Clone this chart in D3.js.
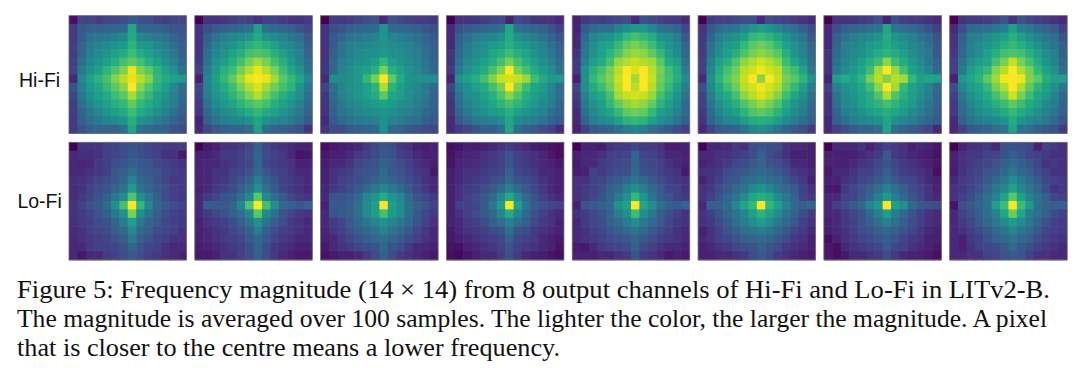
<!DOCTYPE html>
<html>
<head>
<meta charset="utf-8">
<script src="https://d3js.org/d3.v7.min.js"></script>
<style>
html, body { margin: 0; padding: 0; background: #fff; }
svg { display: block; }
.panel { filter: blur(0.45px); }
</style>
</head>
<body>
<div id="chart"></div>
<script>
//row labels and caption
var rowLabels = ["Hi-Fi", "Lo-Fi"];
var channels = [0, 1, 2, 3, 4, 5, 6, 7];
var captionLines = [
    "Figure 5: Frequency magnitude (14 \u00d7 14) from 8 output channels of Hi-Fi and Lo-Fi in LITv2-B.",
    "The magnitude is averaged over 100 samples. The lighter the color, the larger the magnitude. A pixel",
    "that is closer to the centre means a lower frequency."
];

//magnitude, 0 to 100, 14 rows of 14
var hiFi1 = [
[2,16,15,13,15,17,18,22,20,18,14,13,15,16],
[12,22,24,24,25,26,27,54,27,26,25,24,20,20],
[12,22,30,34,34,36,40,56,40,36,34,32,26,22],
[13,26,34,38,42,46,48,60,48,46,40,36,30,24],
[13,26,36,42,46,52,56,64,56,52,46,40,34,26],
[14,30,40,46,52,58,66,72,66,58,52,44,38,28],
[15,34,44,52,60,68,78,97,78,70,60,52,44,32],
[8,40,52,60,66,78,88,95,88,78,62,56,52,48],
[20,36,48,54,62,70,80,100,80,68,58,50,40,30],
[15,34,44,50,56,64,70,85,70,62,52,46,38,28],
[13,30,40,46,52,58,62,72,62,56,50,42,36,26],
[13,26,34,40,46,50,56,64,56,50,44,38,30,24],
[12,24,30,34,38,42,46,58,46,42,36,32,26,22],
[12,20,24,26,26,26,30,54,30,28,26,24,20,18]];
var hiFi2 = [
[0,10,10,11,13,15,14,10,14,14,12,11,10,12],
[10,18,22,24,26,28,30,52,30,28,26,24,20,16],
[10,24,32,36,40,42,46,56,46,42,38,34,30,22],
[10,26,36,42,46,52,58,62,58,52,44,40,34,24],
[11,30,40,46,52,58,66,68,66,58,52,44,38,26],
[12,32,44,50,58,66,76,84,76,66,58,48,40,30],
[14,36,48,58,64,76,86,96,86,76,64,54,46,32],
[6,40,52,62,72,84,96,100,96,84,70,62,54,40],
[16,38,48,56,64,76,86,94,84,74,66,60,46,34],
[14,36,46,52,60,68,78,86,76,66,58,50,44,30],
[12,32,42,48,54,60,66,70,66,58,52,46,38,28],
[11,28,36,42,46,52,56,62,56,52,46,40,34,26],
[6,24,32,36,38,40,44,54,44,40,38,34,30,22],
[8,16,22,24,26,26,30,52,30,26,24,22,20,10]];
var hiFi3 = [
[0,12,12,13,15,18,20,8,20,17,14,13,13,12],
[10,18,20,24,26,27,28,46,28,27,26,24,20,18],
[10,22,27,32,34,36,38,46,38,36,34,30,26,22],
[10,22,32,36,38,40,42,46,42,40,38,34,28,24],
[10,24,32,38,42,44,44,48,44,44,40,36,30,24],
[10,26,36,40,44,46,50,62,50,46,42,38,32,26],
[11,28,38,44,48,52,58,76,58,52,46,40,34,28],
[8,42,42,44,48,62,76,100,72,56,46,44,44,44],
[14,30,38,44,46,52,60,86,60,50,44,40,34,28],
[11,28,38,42,46,50,56,70,54,50,44,38,34,26],
[10,26,34,40,42,46,48,52,48,44,42,36,32,26],
[10,24,32,36,40,42,44,46,44,40,38,34,28,24],
[8,22,28,32,34,36,38,44,38,36,32,30,24,22],
[10,18,18,22,24,26,28,44,28,26,22,20,18,16]];
var hiFi4 = [
[0,10,10,11,13,15,17,6,17,14,11,10,10,8],
[8,18,22,24,26,28,30,54,30,28,26,24,20,14],
[8,24,30,36,38,40,44,56,44,40,36,32,26,20],
[8,26,34,40,44,48,52,58,52,48,42,38,30,24],
[10,28,36,42,46,54,58,64,58,54,46,40,34,26],
[10,30,40,46,52,58,66,76,66,58,50,44,38,30],
[12,34,44,50,56,66,78,100,76,66,56,48,42,32],
[6,46,52,58,66,78,90,92,90,82,64,56,48,48],
[16,36,44,50,56,66,76,100,78,64,54,48,40,30],
[12,32,42,46,52,58,68,80,68,58,50,46,38,30],
[10,30,38,44,48,54,60,66,60,54,48,42,36,28],
[10,26,34,40,44,48,52,58,52,46,42,38,30,26],
[8,22,28,34,36,38,42,54,42,38,36,32,26,22],
[8,12,16,20,24,24,30,54,30,24,22,18,14,8]];
var hiFi5 = [
[6,12,14,13,14,16,18,8,20,17,14,12,12,8],
[6,22,28,30,30,38,44,48,48,40,32,30,26,16],
[8,28,40,44,46,52,62,66,62,56,46,42,36,22],
[8,32,42,50,54,62,72,76,72,64,54,46,40,26],
[10,34,46,52,60,68,78,82,80,72,62,50,42,28],
[12,38,50,56,66,82,86,90,86,84,70,56,50,32],
[12,44,58,66,76,88,100,94,100,88,76,64,56,36],
[6,44,62,70,78,90,100,84,100,90,74,66,58,42],
[16,44,56,64,74,88,100,88,100,88,72,62,52,36],
[12,38,50,56,66,84,90,92,90,82,66,56,46,32],
[10,34,46,52,62,72,80,84,80,72,60,50,42,28],
[8,30,42,48,54,62,72,74,72,62,52,46,38,28],
[8,26,36,42,44,52,60,62,60,52,44,40,32,24],
[6,14,22,24,26,30,36,40,36,30,26,22,18,14]];
var hiFi6 = [
[0,12,14,14,17,18,18,8,18,16,14,12,10,8],
[10,22,28,32,34,40,46,50,46,40,34,30,24,18],
[12,26,36,42,46,52,62,64,60,54,46,38,32,22],
[12,30,40,48,52,62,70,74,70,62,52,44,36,26],
[12,32,44,50,58,68,76,80,76,70,58,46,38,28],
[14,36,50,58,68,80,86,92,86,80,64,54,44,30],
[14,40,56,66,74,88,92,98,92,88,72,64,54,34],
[8,44,60,70,78,90,100,80,100,90,76,70,60,46],
[18,40,54,64,74,88,92,98,92,86,72,62,50,36],
[14,36,50,56,66,80,88,94,88,78,64,54,44,30],
[14,32,44,50,58,68,76,82,76,68,56,46,38,28],
[12,28,40,46,52,60,68,72,68,60,50,42,36,26],
[10,26,34,40,42,50,56,58,56,50,42,36,30,24],
[8,16,22,24,26,32,40,44,40,32,26,22,18,12]];
var hiFi7 = [
[0,10,10,11,12,14,18,6,18,14,12,12,10,8],
[8,18,24,26,28,30,32,54,32,30,28,24,20,14],
[8,24,32,36,40,42,46,56,46,42,38,32,28,20],
[8,26,36,40,42,48,50,56,50,46,40,36,30,22],
[10,28,36,42,44,50,56,60,56,50,44,38,34,22],
[10,30,40,44,50,58,64,80,64,56,48,42,34,26],
[10,34,42,48,54,64,84,100,82,66,52,46,38,28],
[6,50,56,52,60,76,88,78,88,84,62,52,54,52],
[14,38,44,48,54,64,80,100,84,62,52,46,38,28],
[10,32,42,46,52,58,68,86,68,58,50,44,36,26],
[10,30,40,44,50,56,60,66,60,54,48,40,34,26],
[10,26,36,40,44,50,54,58,54,48,42,36,30,24],
[8,24,30,36,40,42,44,54,44,40,36,30,26,22],
[8,14,18,22,26,26,30,54,30,26,22,20,16,8]];
var hiFi8 = [
[0,10,12,12,13,15,20,10,20,16,13,12,10,8],
[8,18,28,30,30,34,36,52,36,34,28,26,22,14],
[10,24,36,38,42,46,50,58,50,44,38,34,30,20],
[10,26,38,42,46,52,58,62,58,52,44,38,32,24],
[12,28,38,44,50,58,66,68,66,58,50,42,36,24],
[14,32,44,50,54,66,76,90,76,66,56,46,38,28],
[14,34,50,56,62,78,88,100,86,76,62,52,44,30],
[6,48,54,60,72,84,98,100,98,78,70,58,52,50],
[18,40,50,54,62,76,86,100,86,72,60,52,44,34],
[14,34,44,50,56,66,76,92,76,64,54,48,38,28],
[12,30,40,46,52,58,64,72,64,56,50,42,36,26],
[12,28,36,42,46,50,56,62,56,50,44,38,32,24],
[8,24,32,36,38,40,46,56,46,40,38,34,28,20],
[8,14,22,24,26,30,32,54,32,30,24,22,20,12]];

var loFi1 = [
[0,10,10,11,14,16,18,20,18,16,14,12,12,13],
[8,9,9,10,14,16,18,22,20,17,14,10,10,4],
[8,7,8,12,14,18,20,24,22,20,16,14,12,10],
[8,8,10,12,14,22,24,30,24,22,20,16,14,12],
[9,10,12,16,18,22,26,38,28,24,20,16,12,12],
[9,10,14,18,20,26,32,48,32,26,22,18,14,12],
[9,12,16,20,24,34,42,68,44,34,24,18,14,12],
[10,14,20,22,28,44,66,100,62,40,26,22,18,14],
[10,12,16,20,24,34,44,76,44,32,24,18,14,12],
[9,12,14,18,20,26,36,50,34,26,22,16,14,12],
[9,10,14,16,18,24,28,40,28,24,18,16,14,10],
[8,10,12,14,16,20,24,34,24,20,16,14,10,10],
[8,8,12,14,14,16,20,26,20,16,14,10,8,8],
[8,4,8,8,12,14,18,22,18,14,12,10,8,6]];
var loFi2 = [
[0,4,6,10,10,12,16,24,16,12,10,8,6,6],
[6,6,8,12,12,14,18,26,18,14,12,8,3,4],
[7,8,8,10,12,14,16,26,16,14,12,10,6,6],
[7,8,10,10,14,16,20,28,22,16,14,10,8,8],
[7,8,10,12,16,20,24,36,26,20,14,12,10,8],
[6,8,12,14,18,24,30,44,30,22,16,12,10,8],
[8,12,16,20,22,30,40,70,40,30,22,16,12,10],
[8,22,22,22,26,40,68,100,66,44,28,24,22,26],
[8,12,16,20,24,30,40,70,42,30,20,16,12,10],
[6,10,12,14,18,24,32,46,32,24,18,12,10,8],
[6,8,10,12,16,20,24,36,24,18,14,12,10,8],
[6,8,10,12,14,16,22,28,22,16,12,10,8,8],
[5,6,8,10,12,14,18,26,18,12,10,8,6,6],
[4,4,6,10,10,14,18,24,18,12,8,6,4,4]];
var loFi3 = [
[2,4,5,6,8,12,16,20,18,12,10,6,5,6],
[4,6,6,8,12,14,18,22,20,14,12,8,6,6],
[5,8,8,10,16,18,20,24,22,18,14,10,8,6],
[6,10,12,14,18,20,22,28,22,20,16,12,10,4],
[6,10,14,16,18,22,26,30,26,22,18,14,10,8],
[7,12,14,18,22,28,34,40,34,28,22,16,12,8],
[8,20,20,22,28,40,46,56,46,40,28,20,16,12],
[6,22,22,24,30,42,50,100,50,42,30,24,20,14],
[8,20,22,24,30,42,50,66,48,42,30,22,16,12],
[8,12,16,22,28,34,40,46,40,34,28,20,14,10],
[7,12,14,20,24,28,32,38,32,28,22,16,12,8],
[6,8,12,16,20,24,28,30,26,22,18,14,10,8],
[4,8,10,12,16,18,20,28,20,18,12,8,8,6],
[3,4,6,6,8,12,18,24,18,12,10,8,6,4]];
var loFi4 = [
[2,3,6,5,6,8,10,12,10,8,5,4,3,2],
[3,6,7,8,10,12,14,20,14,12,10,7,4,2],
[3,7,8,9,10,12,14,20,14,12,10,8,6,4],
[5,8,10,10,12,14,16,24,16,14,12,8,8,6],
[5,8,10,12,14,18,20,28,20,18,14,10,8,6],
[6,10,12,14,18,22,28,36,28,22,16,12,8,6],
[6,10,14,18,22,28,40,56,40,28,20,14,10,8],
[6,14,14,16,22,32,50,100,52,32,22,18,16,14],
[6,10,14,18,22,28,40,56,40,28,20,14,10,8],
[6,8,12,14,18,24,30,38,30,24,16,12,10,6],
[4,8,10,12,14,18,20,30,20,18,12,10,8,6],
[4,6,8,10,12,14,16,24,16,14,12,8,6,4],
[3,2,6,8,10,12,14,20,14,12,10,8,6,3],
[2,1,3,6,8,8,12,18,12,8,6,5,3,2]];
var loFi5 = [
[0,6,6,5,10,12,12,16,12,12,10,5,5,6],
[6,8,8,10,14,14,16,26,16,14,12,8,8,6],
[4,8,8,12,14,16,18,26,18,16,14,10,8,6],
[5,6,14,12,16,18,20,28,20,18,14,12,10,4],
[10,10,14,16,20,22,28,34,28,22,18,14,12,10],
[10,12,14,18,24,28,36,44,36,28,22,16,14,10],
[10,12,16,20,26,34,44,62,46,32,24,20,14,12],
[6,20,22,24,28,46,52,100,54,44,30,24,22,26],
[10,12,16,20,26,36,44,64,44,34,24,18,14,10],
[8,12,16,18,24,28,36,44,34,28,22,16,12,10],
[8,10,14,16,20,24,28,32,28,22,18,14,10,8],
[8,10,12,14,18,20,22,26,22,18,14,12,10,8],
[5,4,8,12,14,16,18,24,18,14,10,8,8,6],
[6,6,6,8,8,10,12,20,12,10,8,4,6,4]];
var loFi6 = [
[0,8,8,8,12,10,18,20,18,18,10,8,8,6],
[8,8,10,10,12,14,18,24,18,14,10,6,6,6],
[6,8,10,12,16,18,22,26,20,18,14,8,8,6],
[10,10,12,18,20,22,26,28,26,22,18,12,10,8],
[6,10,14,20,22,28,30,34,30,28,22,16,12,6],
[10,12,18,22,28,32,40,46,40,32,28,22,14,10],
[10,14,20,26,32,42,54,58,54,42,34,26,16,12],
[8,24,24,28,40,54,62,100,62,52,38,28,24,26],
[10,14,20,26,32,40,52,60,52,42,32,26,18,12],
[10,12,18,22,30,36,44,50,44,34,28,22,14,10],
[6,10,14,20,24,30,34,36,32,28,22,16,12,8],
[8,10,14,16,20,24,26,28,26,22,18,12,10,6],
[6,8,10,12,16,18,20,24,20,18,12,10,8,6],
[6,6,8,8,10,12,18,22,18,12,10,8,6,4]];
var loFi7 = [
[0,8,8,8,10,6,10,14,12,10,6,8,6,4],
[6,6,6,6,8,10,12,22,12,10,8,6,5,3],
[6,6,6,8,10,12,16,20,16,12,10,8,6,4],
[4,8,8,10,14,14,18,24,18,14,12,10,8,2],
[6,6,10,12,16,18,22,28,22,18,16,12,8,6],
[4,4,12,16,20,24,30,38,30,24,18,14,10,6],
[8,8,14,16,22,28,36,48,36,28,20,16,10,8],
[8,14,18,22,28,40,48,100,50,44,28,22,20,18],
[8,8,12,16,20,28,36,50,36,28,20,14,10,8],
[6,8,12,14,20,24,30,38,30,24,18,14,10,8],
[6,8,10,14,18,20,24,28,24,20,16,12,8,6],
[2,6,10,12,16,18,20,24,20,16,12,10,6,6],
[4,2,8,10,12,14,16,22,16,14,10,8,6,4],
[4,2,4,8,8,10,12,18,12,8,6,6,4,2]];
var loFi8 = [
[0,6,10,10,12,8,18,20,18,16,6,14,12,10],
[6,10,12,12,14,16,20,24,20,16,14,12,10,10],
[6,10,12,14,16,20,24,28,24,20,16,10,12,10],
[5,10,14,16,20,22,28,34,28,24,18,14,10,10],
[8,12,14,18,22,28,34,44,34,28,22,16,14,12],
[10,12,16,20,26,34,40,52,40,34,26,18,10,12],
[10,14,18,24,30,38,52,70,52,38,30,24,16,14],
[3,18,22,26,30,50,64,100,64,48,30,26,24,24],
[8,14,20,24,30,38,54,74,54,36,30,24,18,14],
[8,12,16,22,28,34,42,50,42,34,26,20,14,12],
[8,10,14,18,22,28,32,40,32,28,22,16,14,12],
[8,6,12,14,20,24,28,32,28,24,18,14,12,10],
[8,6,10,14,16,18,22,28,22,18,14,12,10,8],
[8,8,10,10,14,16,20,22,20,14,10,10,8,8]];

var rows = [
    [hiFi1, hiFi2, hiFi3, hiFi4, hiFi5, hiFi6, hiFi7, hiFi8],
    [loFi1, loFi2, loFi3, loFi4, loFi5, loFi6, loFi7, loFi8]
];

var width = 1080, height = 368, panelSize = 117.5;
var labelBaselines = [87, 208];
var captionWidths = [1033, 1030, 543];
var svg = d3.select("#chart").append("svg").attr("width", width).attr("height", height);

//Define Scales
var x = d3.scalePoint().domain(channels).range([69, 949.7]),
    y = d3.scalePoint().domain([0, 1]).range([15.7, 142.3]),
    cell = d3.scaleBand().domain(d3.range(14)).range([0, panelSize]),
    level = d3.scalePow().exponent(0.85).domain([0, 100]).range([0, 1]);

//Draw the panels
rows.forEach(function(panels, r){
    panels.forEach(function(grid, c){
        var g = svg.append("g")
            .attr("class", "panel")
            .attr("transform", "translate(" + x(c) + "," + y(r) + ")");
        g.selectAll("g")
            .data(grid)
            .enter().append("g")
            .attr("transform", function(d, i){ return "translate(0," + cell(i) + ")"; })
            .selectAll("rect")
            .data(function(d){ return d; })
            .enter().append("rect")
            .attr("x", function(d, i){ return cell(i); })
            .attr("width", function(d, i){ return cell.bandwidth() + (i < 13 ? 0.6 : 0); })
            .attr("height", cell.bandwidth() + 0.6)
            .attr("fill", function(d){ return d3.interpolateViridis(level(d)); });
        //frame
        g.append("rect")
            .attr("width", panelSize)
            .attr("height", panelSize)
            .attr("fill", "none")
            .attr("stroke", "#666")
            .attr("stroke-width", 0.8);
    });
});

//Row labels
svg.selectAll("text.rowlabel")
    .data(rowLabels)
    .enter().append("text")
    .attr("class", "rowlabel")
    .attr("x", 39.6)
    .attr("y", function(d, i){ return labelBaselines[i]; })
    .style("text-anchor", "middle")
    .style("font-family", "'Liberation Sans', sans-serif")
    .style("font-size", "19.5px")
    .style("fill", "#111")
    .text(function(d){ return d; });

//Caption
svg.selectAll("text.caption")
    .data(captionLines)
    .enter().append("text")
    .attr("class", "caption")
    .attr("x", 17)
    .attr("y", function(d, i){ return 298 + i * 28.8; })
    .attr("textLength", function(d, i){ return captionWidths[i]; })
    .attr("lengthAdjust", "spacingAndGlyphs")
    .style("font-family", "'Liberation Serif', serif")
    .style("font-size", "25px")
    .style("fill", "#111")
    .text(function(d){ return d; });
</script>
</body>
</html>
